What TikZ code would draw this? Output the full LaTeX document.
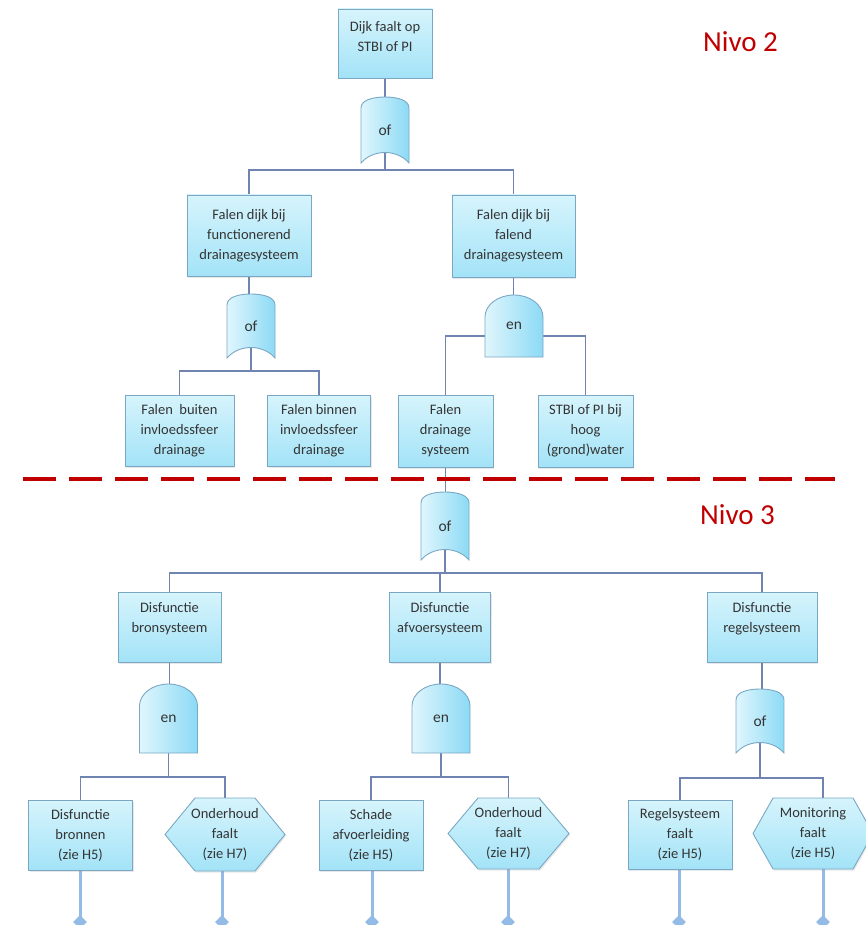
\documentclass[tikz,border=0pt]{standalone}
\usepackage{fontspec}
\setmainfont{Carlito}
\usetikzlibrary{shapes.geometric,shadows}
\definecolor{boxtop}{RGB}{214,244,252}
\definecolor{boxbot}{RGB}{163,227,247}
\definecolor{boxline}{RGB}{122,168,196}
\definecolor{connc}{RGB}{112,132,178}
\definecolor{leafc}{RGB}{148,186,230}
\definecolor{nivored}{RGB}{192,0,0}
\definecolor{txt}{RGB}{52,52,52}
\definecolor{gateleft}{RGB}{224,246,253}
\definecolor{gateright}{RGB}{140,218,245}
\pgfdeclarelayer{bg}
\pgfsetlayers{bg,main}
\tikzset{
  evt/.style={draw=boxline, line width=0.9pt, top color=boxtop, bottom color=boxbot,
    align=center, font=\fontsize{14.5}{20}\selectfont, text=txt, inner sep=0pt,
    drop shadow={shadow xshift=1.2pt, shadow yshift=-1.5pt, opacity=0.18}},
  hexshape/.style={draw=boxline, line width=0.9pt, top color=boxtop, bottom color=boxbot,
    drop shadow={shadow xshift=1.2pt, shadow yshift=-1.5pt, opacity=0.18}},
  hextext/.style={align=center, font=\fontsize{14.5}{20}\selectfont, text=txt, inner sep=0pt},
  gateshape/.style={draw=boxline, line width=0.9pt, left color=gateleft, right color=gateright},
  gatetext/.style={font=\fontsize{15.5}{20}\selectfont, text=txt, inner sep=0pt},
  connline/.style={draw=connc, line width=1.2pt},
  leafline/.style={draw=leafc, line width=3pt},
  leafdiam/.style={diamond, fill=leafc, minimum width=14pt, minimum height=14pt, inner sep=0pt},
  sepline/.style={draw=nivored, line width=4pt, dash pattern=on 33pt off 13pt},
  nivo/.style={font=\fontsize{29}{34}\selectfont, text=nivored, inner sep=0pt}
}
% OR gate: name, x, y, half height, label
\newcommand\orgate[5]{%
  \begin{scope}[shift={(#2,#3)}]
    \path[gateshape] (-24,#4) -- (-24,{-#4+11}) .. controls (-24,{-#4+3}) and (-12,-#4) .. (0,-#4)
      .. controls (12,-#4) and (24,{-#4+3}) .. (24,{-#4+11}) -- (24,#4)
      .. controls (12,{#4-14}) and (-12,{#4-14}) .. (-24,#4) -- cycle;
  \end{scope}
  \node[gatetext, minimum width=48pt, minimum height={2*#4pt}] (#1) at (#2,#3) {#5};}
% AND gate: name, x, y, half height, label
\newcommand\andgate[5]{%
  \begin{scope}[shift={(#2,#3)}]
    \path[gateshape] (-29,#4) -- (-29,{-#4+22}) .. controls (-29,{-#4+9.85}) and (-16,-#4) .. (0,-#4)
      .. controls (16,-#4) and (29,{-#4+9.85}) .. (29,{-#4+22}) -- (29,#4) -- cycle;
  \end{scope}
  \node[gatetext, minimum width=58pt, minimum height={2*#4pt}] (#1) at (#2,#3) {#5};}
% hexagon event: name, x, y, half width, half height, inset, text
\newcommand\hexev[7]{%
  \begin{scope}[shift={(#2,#3)}]
    \path[hexshape] (-#4,0) -- ({-#4+#6},-#5) -- ({#4-#6},-#5) -- (#4,0) -- ({#4-#6},#5) -- ({-#4+#6},#5) -- cycle;
  \end{scope}
  \node[hextext, minimum width={2*#4pt}, minimum height={2*#5pt}] (#1) at (#2,#3) {#7};}
\begin{document}
\begin{tikzpicture}[x=1pt,y=-1pt]
\useasboundingbox (0,0) rectangle (866,925);
% ---- Nivo 2 ----
\node[evt, minimum width=94pt, minimum height=69pt] (T) at (385,43.5) {Dijk faalt op\\STBI of PI\\[-6pt]\mbox{}};
\orgate{G1}{385}{130}{33}{of}
\node[evt, minimum width=124pt, minimum height=81pt] (A) at (249,235.5) {Falen dijk bij\\functionerend\\drainagesysteem};
\node[evt, minimum width=123pt, minimum height=82pt] (B) at (513.5,236) {Falen dijk bij\\falend\\drainagesysteem};
\orgate{G2}{251}{326}{32}{of}
\andgate{G3}{514}{326}{31}{en}
\node[evt, minimum width=109pt, minimum height=71pt] (C) at (179.5,430.5) {Falen~~buiten\\invloedssfeer\\drainage};
\node[evt, minimum width=103pt, minimum height=71pt] (D) at (319,430.5) {Falen binnen\\invloedssfeer\\drainage};
\node[evt, minimum width=95pt, minimum height=72pt] (E) at (445.5,431) {Falen\\drainage\\systeem};
\node[evt, minimum width=95pt, minimum height=72pt] (F) at (585.5,431) {STBI of PI bij\\hoog\\(grond)water};
% ---- separator and level labels ----
\coordinate (sepL) at (23,479);
\coordinate (sepR) at (835,479);
\draw[sepline] (sepL) -- (sepR);
\node[nivo, anchor=base west] (N2) at (703,52) {Nivo 2};
\node[nivo, anchor=base west] (N3) at (700,524) {Nivo 3};
% ---- Nivo 3 ----
\orgate{G4}{445}{526}{34}{of}
\node[evt, minimum width=103pt, minimum height=70pt] (H) at (169.5,627) {Disfunctie\\bronsysteem\\\mbox{}};
\node[evt, minimum width=101pt, minimum height=70pt] (I) at (440,627) {Disfunctie\\afvoersysteem\\\mbox{}};
\node[evt, minimum width=110pt, minimum height=70pt] (J) at (762,627) {Disfunctie\\regelsysteem\\\mbox{}};
\andgate{G5}{168.5}{718.5}{34.5}{en}
\andgate{G6}{441}{718.5}{34.5}{en}
\orgate{G7}{760}{721}{32}{of}
\node[evt, minimum width=104pt, minimum height=70pt] (K) at (80.5,835) {Disfunctie\\bronnen\\(zie H5)};
\hexev{L}{225}{834.5}{60}{36.5}{30}{Onderhoud\\faalt\\(zie H7)}
\node[evt, minimum width=104pt, minimum height=70pt] (M) at (371,835) {Schade\\afvoerleiding\\(zie H5)};
\hexev{N}{508.5}{833.5}{60.5}{35.5}{30}{Onderhoud\\faalt\\(zie H7)}
\node[evt, minimum width=104pt, minimum height=69pt] (O) at (680,834.5) {Regelsysteem\\faalt\\(zie H5)};
\hexev{P}{813}{833.5}{60}{35.5}{20}{Monitoring\\faalt\\(zie H5)}
% leaf diamonds
\node[leafdiam] (dK) at (80,922) {};
\node[leafdiam] (dL) at (222,922) {};
\node[leafdiam] (dM) at (372,922) {};
\node[leafdiam] (dN) at (508,922) {};
\node[leafdiam] (dO) at (679,922) {};
\node[leafdiam] (dP) at (823,922) {};
% ---- connectors ----
\begin{pgfonlayer}{bg}
\coordinate (b1) at (385,170);
\coordinate (b2) at (251,371);
\coordinate (b3) at (514,336);
\coordinate (b4) at (445,573);
\coordinate (b5) at (168.5,777);
\coordinate (b6) at (441,777);
\coordinate (b7) at (760,778);
\coordinate (pTop) at (823,798);
\coordinate (pBot) at (823,869);
\draw[connline] (T.center) -- (G1.center);
\draw[connline] (G1.center) -- (b1);
\draw[connline] (A.north) |- (b1) -| (B.north);
\draw[connline] (A.south) -- (A.south |- G2.center);
\draw[connline] (G2.center) -- (b2);
\draw[connline] (C.north) |- (b2) -| (D.north);
\draw[connline] (B.south) -- (B.south |- G3.center);
\draw[connline] (E.north) |- (b3) -| (F.north);
\draw[connline] (E.south) -- (E.south |- G4.center);
\draw[connline] (G4.center) -- (b4);
\draw[connline] (H.north) |- (b4) -| (J.north);
\draw[connline] (I.north) -- (I.north |- b4);
\draw[connline] (H.south) -- (H.south |- G5.center);
\draw[connline] (G5.center) -- (b5);
\draw[connline] (K.north) |- (b5) -| (L.north);
\draw[connline] (I.south) -- (I.south |- G6.center);
\draw[connline] (G6.center) -- (b6);
\draw[connline] (M.north) |- (b6) -| (N.north);
\draw[connline] (J.south) -- (J.south |- G7.center);
\draw[connline] (G7.center) -- (b7);
\draw[connline] (O.north) |- (b7) -| (pTop);
\draw[leafline] (K.south -| dK) -- (dK.center);
\draw[leafline] (L.south -| dL) -- (dL.center);
\draw[leafline] (M.south -| dM) -- (dM.center);
\draw[leafline] (N.south -| dN) -- (dN.center);
\draw[leafline] (O.south -| dO) -- (dO.center);
\draw[leafline] (pBot) -- (dP.center);
\end{pgfonlayer}
\end{tikzpicture}
\end{document}
